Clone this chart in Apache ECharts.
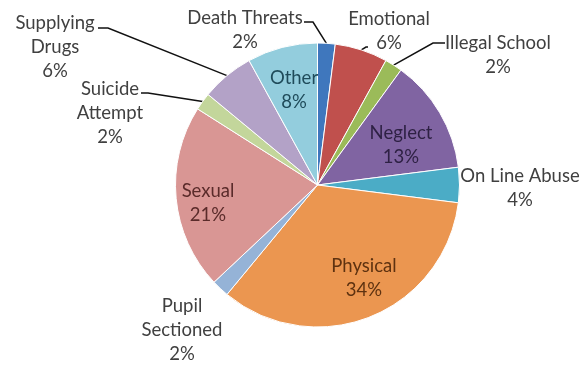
<!DOCTYPE html>
<html>
<head>
<meta charset="utf-8">
<script src="https://cdn.jsdelivr.net/npm/echarts@6/dist/echarts.min.js"></script>
<style>
  html, body { margin: 0; padding: 0; background: #fff; }
  #chart { width: 587px; height: 365px; }
</style>
</head>
<body>
<div id="chart"></div>
<script>
// Categories in clockwise order starting at 12 o'clock
const categories = [
  'Death Threats', 'Emotional', 'Illegal School', 'Neglect', 'On Line Abuse',
  'Physical', 'Pupil\nSectioned', 'Sexual', 'Suicide\nAttempt', 'Supplying\nDrugs', 'Other'
];
// Share of reported cases, in percent
const shares = [2, 6, 2, 13, 4, 34, 2, 21, 2, 6, 8];

// Slice fills and label text colours
const sliceColors = [
  '#3f77bd', '#c0504d', '#9bbb59', '#8064a2', '#4bacc6',
  '#eb9650', '#95b3d7', '#d99694', '#c3d69b', '#b3a2c7', '#93cddd'
];
const labelColors = [
  '#404040', '#404040', '#404040', '#2e2144', '#404040',
  '#5e3210', '#404040', '#5a2b2a', '#404040', '#404040', '#1f4b5a'
];
// Which outside labels get a leader line
const leaderLine = [true, true, true, false, false, false, false, false, true, true, false];
// Label block centres in pixels
const labelPos = [
  [245, 30], [389, 31], [498, 55], [401, 145], [520, 188],
  [364, 278], [182, 330], [208, 203], [110, 113], [55, 47], [294, 90]
];
// Leader line bend and end points (label side), in pixels
const leaderEnds = [
  [[313, 22], [304, 22]],
  [[366, 47], [368, 47]],
  [[433, 43], [445, 43]],
  null, null, null, null, null,
  [[148, 93], [141, 93]],
  [[108, 28], [98, 28]],
  null
];

const chart = echarts.init(document.getElementById('chart'), null, { renderer: 'canvas' });

const data = categories.map((name, i) => ({
  name: name,
  value: shares[i],
  itemStyle: { color: sliceColors[i] },
  label: { color: labelColors[i] },
  labelLine: { show: leaderLine[i] }
}));

chart.setOption({
  animation: false,
  backgroundColor: '#ffffff',
  series: [{
    type: 'pie',
    center: [317.5, 185],
    radius: 142,
    startAngle: 90,
    clockwise: true,
    avoidLabelOverlap: false,
    data: data,
    itemStyle: { borderColor: '#ffffff', borderWidth: 1 },
    label: {
      show: true,
      position: 'outside',
      formatter: p => p.name + '\n' + p.value + '%',
      fontFamily: 'Lato',
      fontSize: 18.5,
      lineHeight: 24,
      align: 'center',
      verticalAlign: 'middle'
    },
    labelLine: {
      show: true,
      length: 10,
      length2: 10,
      lineStyle: { color: '#111111', width: 1.5 }
    },
    labelLayout: function (params) {
      const i = params.dataIndex;
      const pos = labelPos[i];
      const out = { x: pos[0], y: pos[1], align: 'center', verticalAlign: 'middle' };
      const ends = leaderEnds[i];
      if (ends && params.labelLinePoints) {
        out.labelLinePoints = [params.labelLinePoints[0], ends[0], ends[1]];
      }
      return out;
    }
  }]
});
</script>
</body>
</html>
